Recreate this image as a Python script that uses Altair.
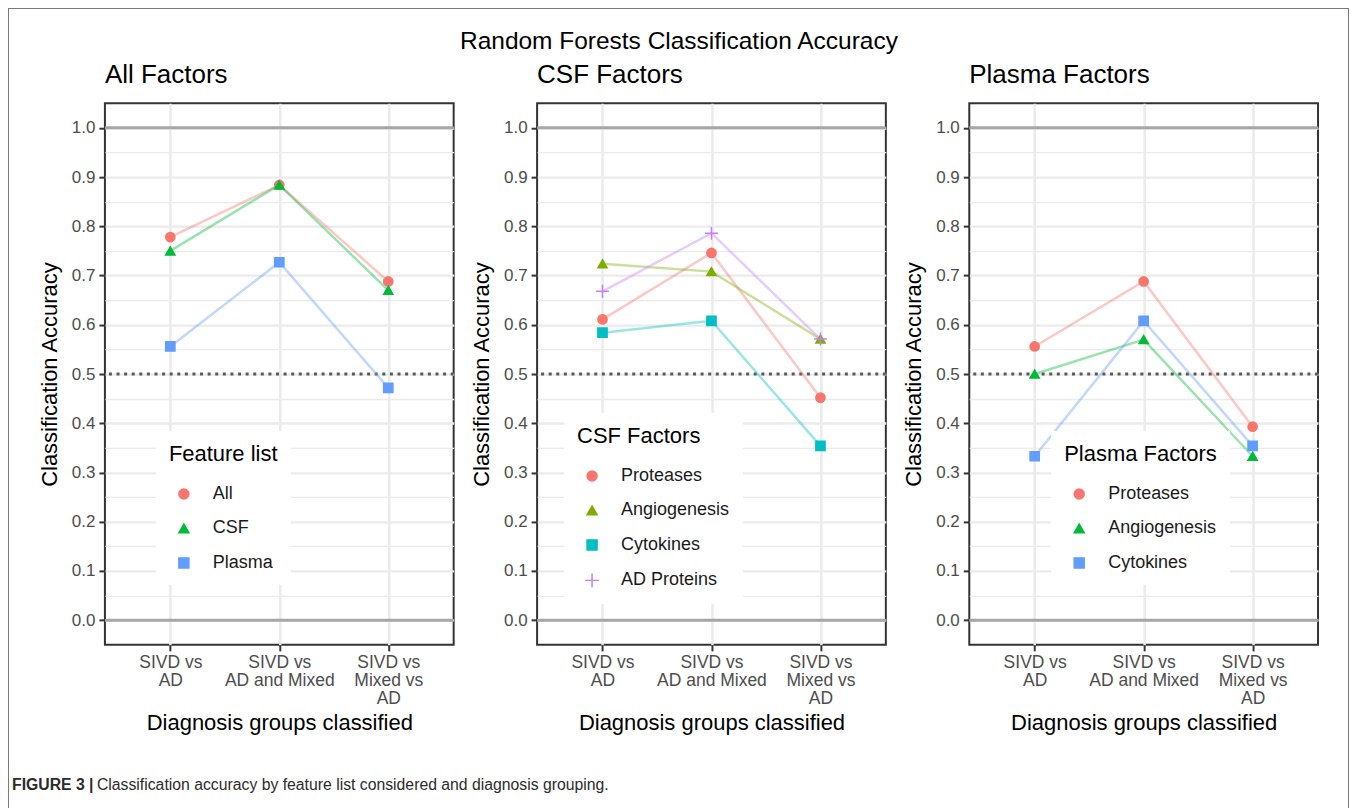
import altair as alt
import pandas as pd

# ---------------- data ----------------
groups = ["SIVD vs\nAD", "SIVD vs\nAD and Mixed", "SIVD vs\nMixed vs\nAD"]

all_names = ["All", "CSF", "Plasma"]
all_all = [0.778, 0.884, 0.688]
all_csf = [0.750, 0.884, 0.670]
all_plasma = [0.556, 0.727, 0.472]

csf_names = ["Proteases", "Angiogenesis", "Cytokines", "AD Proteins"]
csf_proteases = [0.611, 0.746, 0.452]
csf_angiogenesis = [0.724, 0.708, 0.571]
csf_cytokines = [0.584, 0.608, 0.354]
csf_ad_proteins = [0.668, 0.786, 0.571]

plasma_names = ["Proteases", "Angiogenesis", "Cytokines"]
plasma_proteases = [0.556, 0.688, 0.393]
plasma_angiogenesis = [0.500, 0.570, 0.333]
plasma_cytokines = [0.333, 0.608, 0.354]

reference_levels = [0.0, 1.0]
chance_level = [0.5]

y_tick_values = [0.0, 0.05, 0.1, 0.15, 0.2, 0.25, 0.3, 0.35, 0.4, 0.45, 0.5,
                 0.55, 0.6, 0.65, 0.7, 0.75, 0.8, 0.85, 0.9, 0.95, 1.0]

caption_label = ["FIGURE 3 |"]
caption_text = ["Classification accuracy by feature list considered and diagnosis grouping."]

# ---------------- styling ----------------
FONT = "Liberation Sans"
IS_MINOR = "abs(datum.value * 10 - round(datum.value * 10)) > 0.01"
PLUS = "M-1.4,0L1.4,0M0,-1.4L0,1.4"
PAL3 = ["#F8766D", "#00BA38", "#619CFF"]
PAL4 = ["#F8766D", "#7CAE00", "#00BFC4", "#C77CFF"]
SHAPES3 = ["circle", "triangle-up", "square"]
SHAPES4 = ["circle", "triangle-up", "square", PLUS]


def panel(title, legend_title, names, values, colors, shapes, legend_x, legend_y):
    rows = [{"group": g, "series": n, "accuracy": v}
            for n, vals in zip(names, values) for g, v in zip(groups, vals)]
    df = pd.DataFrame(rows)

    y_axis = alt.Axis(
        title="Classification Accuracy", values=y_tick_values,
        labelExpr=f"{IS_MINOR} ? '' : format(datum.value, '.1f')",
        grid=True, gridColor="#EBEBEB",
        gridWidth={"condition": {"test": IS_MINOR, "value": 1.3}, "value": 2.3},
        tickOpacity={"condition": {"test": IS_MINOR, "value": 0}, "value": 1},
        domain=False, tickColor="#333333", tickSize=6, tickWidth=2,
        labelFontSize=17, labelColor="#4D4D4D", labelPadding=4,
        titleFontSize=22, titleFontWeight="normal", titleColor="black", titlePadding=10,
    )
    y = alt.Y("accuracy:Q", scale=alt.Scale(domain=[-0.05, 1.05], nice=False, zero=False), axis=y_axis)
    x = alt.X(
        "group:N", sort=groups, scale=alt.Scale(type="point", padding=0.6),
        axis=alt.Axis(
            title="Diagnosis groups classified", labelExpr="split(datum.label, '\\n')",
            labelAngle=0, grid=True, gridColor="#EBEBEB", gridWidth=2.5,
            domain=False, tickColor="#333333", tickSize=6, tickWidth=2,
            labelFontSize=17.5, labelColor="#4D4D4D", labelLineHeight=18, labelPadding=3,
            titleFontSize=22, titleFontWeight="normal", titleColor="black", titlePadding=5,
        ),
    )
    color_scale = alt.Scale(domain=names, range=colors)
    shape_scale = alt.Scale(domain=names, range=shapes)
    legend = alt.Legend(
        title=legend_title, orient="none", legendX=legend_x, legendY=legend_y,
        fillColor="white", padding=13, titleFontSize=22, titleFontWeight="normal",
        titleColor="black", titlePadding=19, labelFontSize=18, labelColor="#1A1A1A",
        symbolSize=100, symbolStrokeWidth=1.5, symbolOpacity=1, rowPadding=16.5,
        labelOffset=20, symbolOffset=6,
    )

    ref = alt.Chart(pd.DataFrame({"accuracy": reference_levels})).mark_rule(
        color="#A6A6A6", strokeWidth=3).encode(y=y)
    dotted = alt.Chart(pd.DataFrame({"accuracy": chance_level})).mark_rule(
        color="#5A5A5A", strokeWidth=3, strokeDash=[3, 4.6]).encode(y=y)
    lines = alt.Chart(df).mark_line(strokeWidth=2.5, opacity=0.4).encode(
        x=x, y=y, color=alt.Color("series:N", scale=color_scale, legend=legend))
    points = alt.Chart(df).mark_point(filled=True, size=85, strokeWidth=1.5, opacity=1).encode(
        x=x, y=y,
        color=alt.Color("series:N", scale=color_scale, legend=legend),
        stroke=alt.Stroke("series:N", scale=color_scale, legend=legend),
        shape=alt.Shape("series:N", scale=shape_scale, legend=legend),
    )
    return alt.layer(ref, dotted, lines, points).properties(
        width=349, height=542,
        title=alt.TitleParams(title, fontSize=26, fontWeight="normal", color="black",
                              anchor="start", frame="group", offset=15),
    )


p1 = panel("All Factors", "Feature list", all_names,
           [all_all, all_csf, all_plasma], PAL3, SHAPES3, 51, 328)
p2 = panel("CSF Factors", "CSF Factors", csf_names,
           [csf_proteases, csf_angiogenesis, csf_cytokines, csf_ad_proteins], PAL4, SHAPES4, 27, 310)
p3 = panel("Plasma Factors", "Plasma Factors", plasma_names,
           [plasma_proteases, plasma_angiogenesis, plasma_cytokines], PAL3, SHAPES3, 82, 328)

row = alt.hconcat(p1, p2, p3, spacing=83.5, bounds="flush").resolve_scale(
    color="independent", stroke="independent", shape="independent"
).resolve_legend(
    color="independent", stroke="independent", shape="independent"
).properties(
    title=alt.TitleParams("Random Forests Classification Accuracy", fontSize=24.5,
                          fontWeight="normal", color="black", anchor="middle", offset=7))

cap_bold = alt.Chart(pd.DataFrame({"t": caption_label})).mark_text(
    align="left", baseline="alphabetic", fontSize=15.8, fontWeight="bold", color="#2B2B2B"
).encode(text="t:N", x=alt.value(-93), y=alt.value(14))
cap_rest = alt.Chart(pd.DataFrame({"t": caption_text})).mark_text(
    align="left", baseline="alphabetic", fontSize=15.8, color="#2B2B2B"
).encode(text="t:N", x=alt.value(-8), y=alt.value(14))
caption = alt.layer(cap_bold, cap_rest).properties(
    width=10, height=20, view=alt.ViewBackground(strokeOpacity=0))

chart = alt.vconcat(row, caption, spacing=673, bounds="flush").resolve_scale(
    color="independent", stroke="independent", shape="independent"
).properties(
    padding={"left": 4, "right": 28, "top": 20, "bottom": 20}
).configure(font=FONT).configure_view(stroke="#333333", strokeWidth=2)

chart.save("out.html", embed_options={
    "renderer": "svg", "actions": False,
    "defaultStyle": ".vega-embed svg { outline: 1px solid #7A7A7A; outline-offset: -1px; }",
})
